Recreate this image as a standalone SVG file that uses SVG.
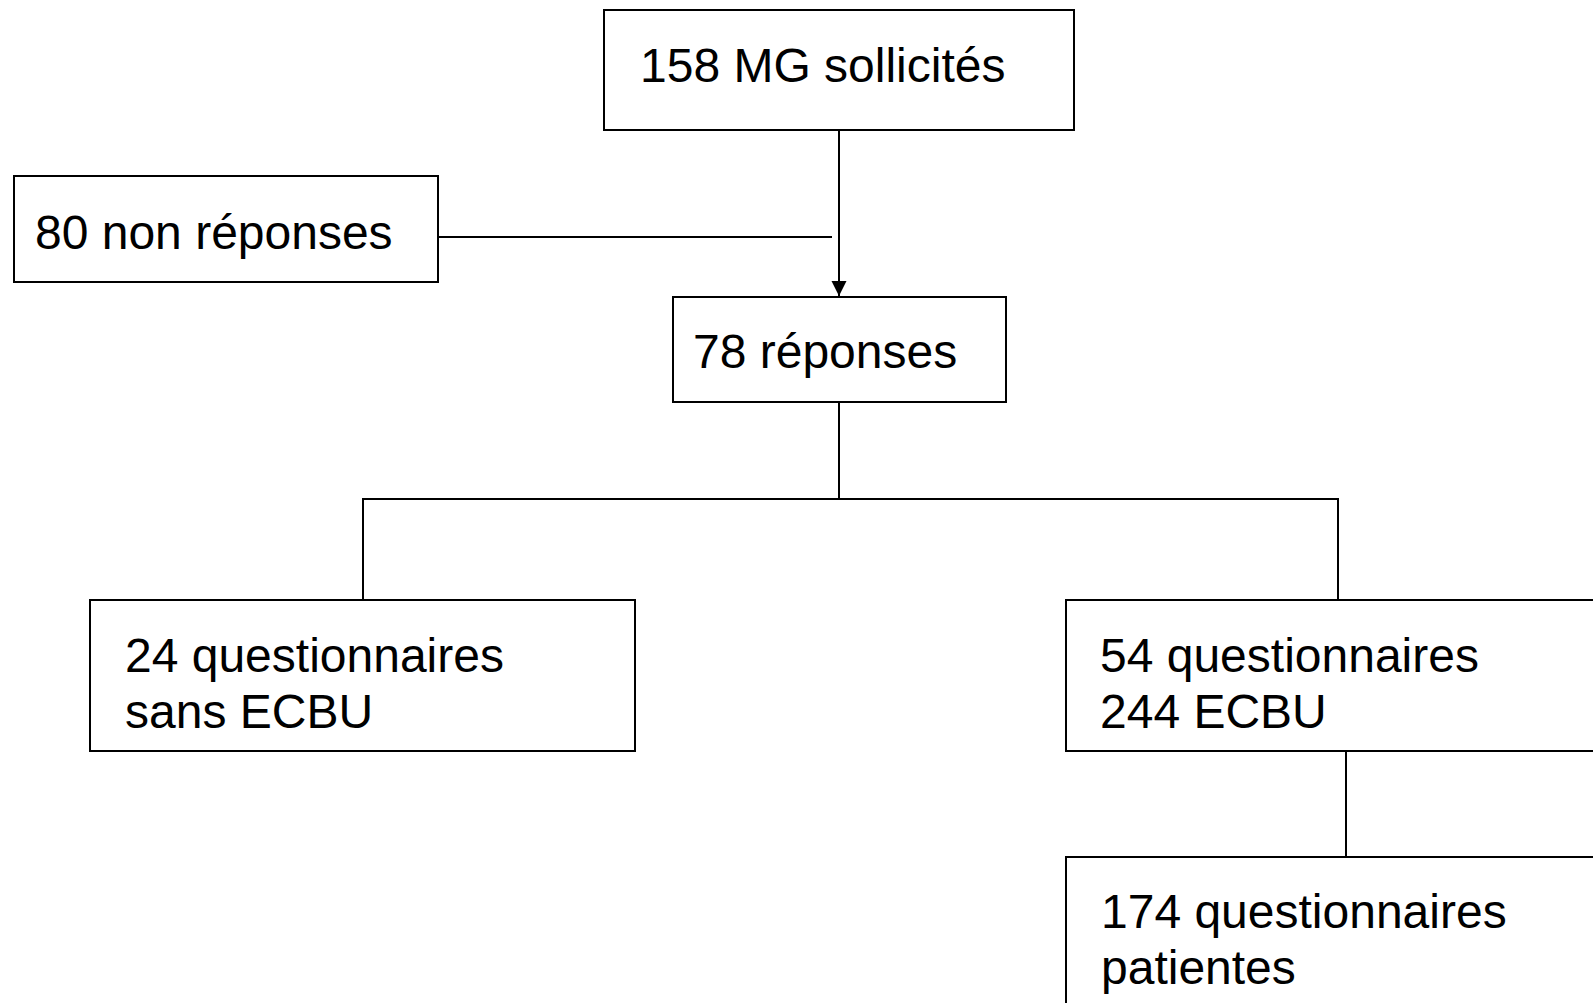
<svg xmlns="http://www.w3.org/2000/svg" width="1593" height="1003" viewBox="0 0 1593 1003">
<style>
.box{fill:#fff;stroke:#000;stroke-width:2}
.lbl{font-family:"Liberation Sans",Arial,sans-serif;font-size:48px;fill:#000}
.con{fill:none;stroke:#000;stroke-width:2}
</style>
<defs>
<marker id="arr" markerWidth="16" markerHeight="16" refX="15" refY="7.5" orient="auto" markerUnits="userSpaceOnUse">
<path d="M0,0 L15,7.5 L0,15 Z" fill="#000"/>
</marker>
</defs>
<rect width="1593" height="1003" fill="#fff"/>
<g id="connectors">
<line class="con" x1="839" y1="130" x2="839" y2="296" marker-end="url(#arr)"/>
<line class="con" x1="438" y1="237" x2="832" y2="237"/>
<line class="con" x1="839" y1="402" x2="839" y2="499"/>
<line class="con" x1="363" y1="499" x2="1338" y2="499"/>
<line class="con" x1="363" y1="498" x2="363" y2="600"/>
<line class="con" x1="1338" y1="498" x2="1338" y2="600"/>
<line class="con" x1="1346" y1="751" x2="1346" y2="857"/>
</g>
<g id="n158">
<rect class="box" x="604" y="10" width="470" height="120"/>
<text class="lbl" x="640" y="82">158 MG sollicités</text>
</g>
<g id="n80">
<rect class="box" x="14" y="176" width="424" height="106"/>
<text class="lbl" x="35" y="249">80 non réponses</text>
</g>
<g id="n78">
<rect class="box" x="673" y="297" width="333" height="105"/>
<text class="lbl" x="693" y="368">78 réponses</text>
</g>
<g id="n24">
<rect class="box" x="90" y="600" width="545" height="151"/>
<text class="lbl" x="125" y="672">24 questionnaires</text>
<text class="lbl" x="125" y="728">sans ECBU</text>
</g>
<g id="n54">
<rect class="box" x="1066" y="600" width="560" height="151"/>
<text class="lbl" x="1100" y="672">54 questionnaires</text>
<text class="lbl" x="1100" y="728">244 ECBU</text>
</g>
<g id="n174">
<rect class="box" x="1066" y="857" width="560" height="200"/>
<text class="lbl" x="1101" y="928">174 questionnaires</text>
<text class="lbl" x="1101" y="984">patientes</text>
</g>
</svg>
